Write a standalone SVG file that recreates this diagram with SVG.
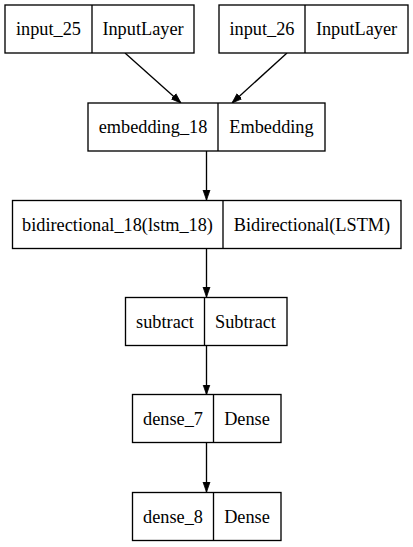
<svg xmlns="http://www.w3.org/2000/svg" width="413" height="547" viewBox="0 0 413 547">
<style>
.box{fill:#fff;stroke:#000;stroke-width:1.33}
.div{stroke:#000;stroke-width:1.33}
text{font-family:"Liberation Serif","Times New Roman",serif;font-size:18.3px;text-anchor:middle;fill:#000}
.edge{stroke:#000;stroke-width:1.33;fill:none}
</style>
<defs>
<marker id="ah" viewBox="0 0 10 10" refX="10" refY="5" markerWidth="10" markerHeight="10" markerUnits="userSpaceOnUse" orient="auto">
<path d="M0,1.5 L10,5 L0,8.5 Z" fill="#000" stroke="#000" stroke-width="0.8"/>
</marker>
</defs>
<rect width="413" height="547" fill="#fff"/>
<g id="connectors">
<line class="edge" x1="125" y1="53" x2="181" y2="103" marker-end="url(#ah)"/>
<line class="edge" x1="287" y1="53" x2="232" y2="103" marker-end="url(#ah)"/>
<line class="edge" x1="206.5" y1="151" x2="206.5" y2="200" marker-end="url(#ah)"/>
<line class="edge" x1="206.5" y1="248" x2="206.5" y2="297" marker-end="url(#ah)"/>
<line class="edge" x1="206.5" y1="345" x2="206.5" y2="394.5" marker-end="url(#ah)"/>
<line class="edge" x1="206.5" y1="442.5" x2="206.5" y2="492" marker-end="url(#ah)"/>
</g>
<g id="input_25">
<rect class="box" x="5" y="5" width="189" height="48"/>
<line class="div" x1="92" y1="5" x2="92" y2="53"/>
<text x="48.5" y="35">input_25</text>
<text x="143" y="35">InputLayer</text>
</g>
<g id="input_26">
<rect class="box" x="219" y="5" width="189" height="48"/>
<line class="div" x1="305" y1="5" x2="305" y2="53"/>
<text x="262" y="35">input_26</text>
<text x="356.5" y="35">InputLayer</text>
</g>
<g id="embedding_18">
<rect class="box" x="88" y="103" width="237" height="48"/>
<line class="div" x1="218" y1="103" x2="218" y2="151"/>
<text x="153" y="133">embedding_18</text>
<text x="271.5" y="133">Embedding</text>
</g>
<g id="bidirectional_18">
<rect class="box" x="12.5" y="200.5" width="388.5" height="48"/>
<line class="div" x1="223" y1="200.5" x2="223" y2="248.5"/>
<text x="117.5" y="230.5">bidirectional_18(lstm_18)</text>
<text x="312" y="230.5">Bidirectional(LSTM)</text>
</g>
<g id="subtract">
<rect class="box" x="125.5" y="297.5" width="161.5" height="48"/>
<line class="div" x1="204.5" y1="297.5" x2="204.5" y2="345.5"/>
<text x="165" y="327.5">subtract</text>
<text x="245.5" y="327.5">Subtract</text>
</g>
<g id="dense_7">
<rect class="box" x="132.5" y="394.5" width="148.5" height="48"/>
<line class="div" x1="213.5" y1="394.5" x2="213.5" y2="442.5"/>
<text x="173" y="424.5">dense_7</text>
<text x="247" y="424.5">Dense</text>
</g>
<g id="dense_8">
<rect class="box" x="132.5" y="492.5" width="148.5" height="48"/>
<line class="div" x1="213.5" y1="492.5" x2="213.5" y2="540.5"/>
<text x="173" y="522.5">dense_8</text>
<text x="247" y="522.5">Dense</text>
</g>
</svg>
